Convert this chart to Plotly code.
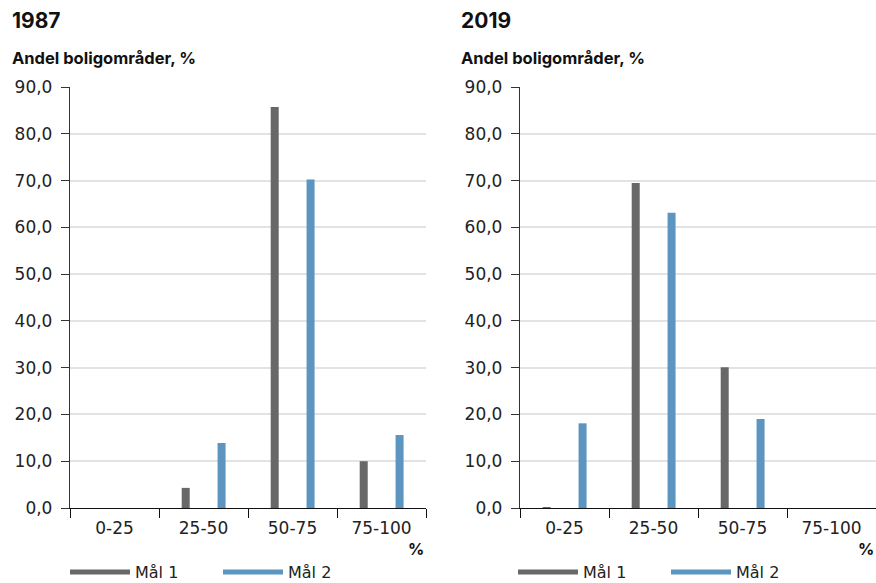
import plotly.graph_objects as go

# Andel boligområder per intervall, to målemetoder
categories = ["0-25", "25-50", "50-75", "75-100"]
years = ["1987", "2019"]
maal1_1987 = [0.0, 4.3, 85.7, 10.0]
maal2_1987 = [0.0, 13.9, 70.2, 15.6]
maal1_2019 = [0.2, 69.5, 30.1, 0.0]
maal2_2019 = [18.1, 63.1, 19.0, 0.0]
series_names = ["Mål 1", "Mål 2"]
y_ticks = [0, 10, 20, 30, 40, 50, 60, 70, 80, 90]

GREY = "#686868"
BLUE = "#5b95c0"
FONT = "DejaVu Sans"
TITLE_FONT = "Inter"

fig = go.Figure()

panels = [
    (maal1_1987, maal2_1987, "x", "y", "legend"),
    (maal1_2019, maal2_2019, "x2", "y2", "legend2"),
]
for m1, m2, xa, ya, lg in panels:
    for vals, color, off in [(m1, GREY, -0.245), (m2, BLUE, 0.158)]:
        fig.add_trace(go.Bar(
            x=categories, y=vals, xaxis=xa, yaxis=ya,
            marker=dict(color=color, line=dict(width=0)),
            width=0.09, offset=off, showlegend=False, hoverinfo="x+y",
        ))
    # legend entries drawn as thick lines
    for color, name in [(GREY, series_names[0]), (BLUE, series_names[1])]:
        fig.add_trace(go.Scatter(
            x=[None], y=[None], xaxis=xa, yaxis=ya, mode="lines",
            line=dict(color=color, width=5), name=name, legend=lg,
        ))

ydom = [1 - 508 / 583, 1 - 87 / 583]
xaxis_common = dict(
    type="category", range=[-0.5, 3.5], tickson="boundaries",
    ticks="outside", ticklen=9, tickcolor="#111", tickwidth=1.3,
    showline=True, linecolor="#111", linewidth=1.3, showgrid=False,
    ticklabelstandoff=4,
    tickfont=dict(family=FONT, size=17, color="#222"), fixedrange=True,
)
yaxis_common = dict(
    range=[0, 90], tickvals=y_ticks, tickformat=".1f",
    ticks="outside", ticklen=8, tickcolor="#333", tickwidth=1.3,
    showline=True, linecolor="#333", linewidth=1.3,
    showgrid=True, gridcolor="#e3e3e3", gridwidth=1.5, zeroline=False,
    ticklabelstandoff=5,
    tickfont=dict(family=FONT, size=17, color="#222"), fixedrange=True,
)

legend_common = dict(
    orientation="h", yanchor="top", xanchor="left",
    font=dict(family=FONT, size=16, color="#222"),
    itemwidth=60, entrywidth=78, entrywidthmode="pixels",
    bgcolor="rgba(0,0,0,0)", tracegroupgap=0,
)

fig.update_layout(
    width=876, height=583,
    margin=dict(l=0, r=0, t=0, b=0, autoexpand=False),
    paper_bgcolor="white", plot_bgcolor="white",
    separators=", ",
    barmode="overlay",
    xaxis=dict(domain=[70 / 876, 426 / 876], anchor="y", **xaxis_common),
    yaxis=dict(domain=ydom, anchor="x", **yaxis_common),
    xaxis2=dict(domain=[520 / 876, 1.0], anchor="y2", **xaxis_common),
    yaxis2=dict(domain=ydom, anchor="x2", **yaxis_common),
    legend=dict(x=65 / 876, y=1 - 555 / 583, **legend_common),
    legend2=dict(x=513 / 876, y=1 - 555 / 583, **legend_common),
    showlegend=True,
)

annotations = []
for year, x0, xr in [(years[0], 10, 426), (years[1], 459, 876)]:
    annotations.append(dict(
        x=x0 / 876, y=1 - 20 / 583, xref="paper", yref="paper",
        xanchor="left", yanchor="middle", showarrow=False,
        text=f"<b>{year}</b>",
        font=dict(family=TITLE_FONT, size=21, color="#111", weight=800),
    ))
    annotations.append(dict(
        x=x0 / 876, y=1 - 58 / 583, xref="paper", yref="paper",
        xanchor="left", yanchor="middle", showarrow=False,
        text="<b>Andel boligområder, %</b>",
        font=dict(family=TITLE_FONT, size=16.5, color="#111"),
    ))
    annotations.append(dict(
        x=xr / 876, y=1 - 549 / 583, xref="paper", yref="paper",
        xanchor="right", yanchor="middle", showarrow=False,
        text="<b>%</b>", font=dict(family=TITLE_FONT, size=16, color="#111"),
    ))
fig.update_layout(annotations=annotations)

fig.write_html("out.html")
